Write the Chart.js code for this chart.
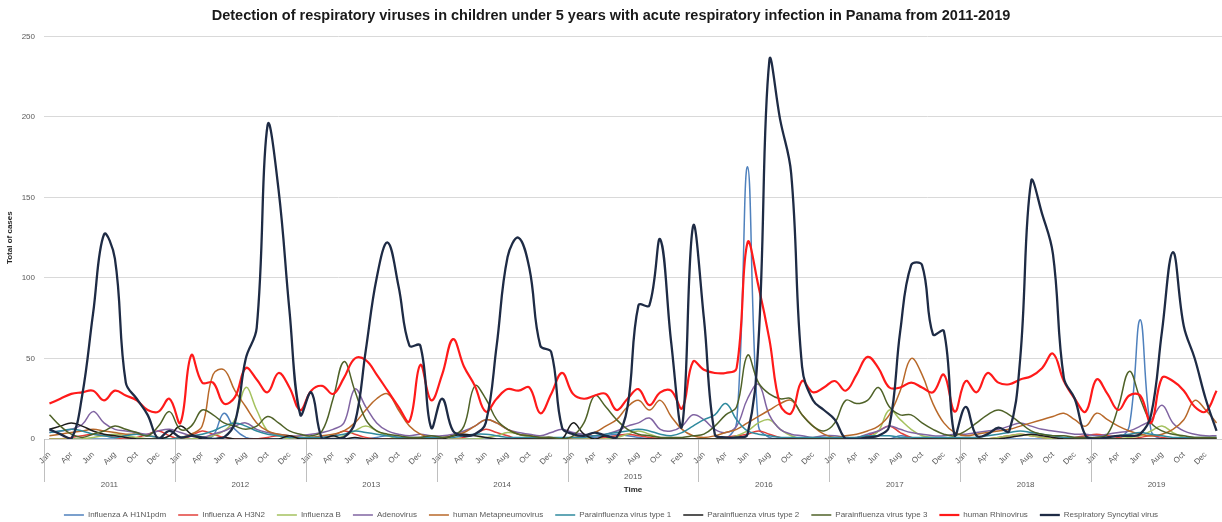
<!DOCTYPE html>
<html>
<head>
<meta charset="utf-8">
<script src="https://cdn.jsdelivr.net/npm/chart.js@4/dist/chart.umd.min.js"></script>
<style>
  html, body { margin: 0; padding: 0; background: #fff; }
</style>
</head>
<body>
<canvas id="virusChart" width="1222" height="522"></canvas>
<script>
const years = ['2011', '2012', '2013', '2014', '2015', '2016', '2017', '2018', '2019'];
const monthNames = ['Jan', 'Feb', 'Mar', 'Apr', 'May', 'Jun', 'Jul', 'Aug', 'Sep', 'Oct', 'Nov', 'Dec'];
// labels printed under every other month (the 2015 row ends with "Feb" in the source)
const monthTicks = ['Jan', 'Apr', 'Jun', 'Aug', 'Oct', 'Dec'];
const monthTicks2015 = ['Jan', 'Apr', 'Jun', 'Aug', 'Oct', 'Feb'];

// monthly cases, one line per year (2011 -> 2019)
const h1n1 = [
  0, 0, 0, 0, 0, 0, 0, 0, 0, 0, 0, 0,
  0, 0, 0, 2, 16, 6, 1, 0, 0, 0, 0, 0,
  0, 0, 0, 0, 0, 0, 1, 2, 1, 0, 0, 0,
  0, 0, 0, 0, 0, 0, 0, 0, 0, 0, 0, 0,
  0, 0, 1, 2, 3, 2, 1, 0, 0, 0, 0, 0,
  0, 0, 0, 10, 169, 8, 1, 0, 0, 0, 0, 0,
  0, 0, 0, 0, 0, 0, 2, 1, 0, 0, 0, 0,
  0, 0, 0, 0, 0, 0, 0, 0, 0, 0, 0, 0,
  0, 0, 0, 8, 74, 5, 0, 0, 0, 0, 0, 0
];
const h3n2 = [
  0, 0, 1, 2, 3, 2, 1, 0, 1, 3, 5, 2,
  0, 2, 5, 3, 1, 0, 0, 0, 1, 2, 1, 0,
  0, 1, 2, 5, 3, 1, 0, 0, 0, 0, 1, 0,
  0, 0, 1, 3, 6, 4, 2, 0, 0, 0, 0, 0,
  0, 0, 0, 1, 2, 3, 2, 1, 0, 0, 0, 0,
  0, 0, 1, 2, 3, 5, 3, 1, 0, 0, 0, 0,
  0, 0, 0, 2, 5, 8, 4, 1, 0, 0, 0, 0,
  0, 0, 0, 1, 2, 3, 2, 1, 0, 0, 1, 2,
  3, 2, 1, 0, 1, 2, 1, 0, 0, 0, 0, 0
];
const fluB = [
  0, 0, 0, 0, 1, 2, 3, 2, 1, 0, 0, 0,
  0, 0, 1, 2, 5, 12, 32, 18, 5, 2, 0, 0,
  0, 0, 0, 2, 5, 8, 5, 2, 0, 0, 0, 0,
  0, 0, 0, 0, 1, 2, 4, 3, 1, 0, 0, 0,
  0, 0, 0, 0, 1, 3, 5, 3, 1, 0, 0, 0,
  0, 0, 0, 2, 5, 10, 12, 6, 2, 0, 0, 0,
  0, 0, 0, 1, 5, 18, 12, 6, 2, 1, 0, 0,
  0, 0, 0, 1, 2, 3, 2, 1, 0, 0, 0, 0,
  0, 0, 0, 1, 2, 5, 8, 4, 1, 0, 0, 0
];
const adeno = [
  4, 5, 6, 9, 17, 10, 6, 5, 4, 3, 5, 6,
  4, 2, 1, 3, 5, 8, 10, 6, 4, 3, 2, 2,
  3, 4, 6, 10, 31, 20, 10, 5, 3, 2, 3, 2,
  2, 3, 5, 8, 12, 10, 6, 4, 3, 2, 4, 6,
  4, 3, 2, 3, 5, 8, 10, 13, 6, 5, 8, 15,
  12, 6, 4, 8, 25, 34, 15, 6, 3, 2, 1, 2,
  2, 1, 1, 3, 5, 8, 6, 4, 3, 2, 2, 3,
  3, 4, 5, 6, 8, 10, 8, 6, 5, 4, 3, 3,
  2, 3, 4, 5, 8, 12, 21, 10, 5, 3, 2, 2
];
const hmpv = [
  2, 3, 4, 5, 6, 5, 4, 3, 3, 2, 1, 0,
  1, 3, 8, 40, 43, 30, 20, 10, 5, 3, 2, 1,
  1, 2, 3, 5, 10, 18, 25, 28, 18, 8, 3, 1,
  1, 2, 4, 8, 12, 10, 6, 3, 2, 1, 1, 0,
  1, 2, 4, 8, 12, 20, 24, 18, 24, 14, 6, 2,
  1, 2, 4, 6, 10, 14, 18, 22, 24, 15, 8, 3,
  1, 2, 3, 5, 8, 15, 30, 50, 40, 22, 10, 4,
  2, 3, 4, 5, 6, 8, 10, 12, 14, 16, 12, 8,
  16, 12, 8, 5, 3, 2, 3, 6, 12, 24, 18, 10
];
const piv1 = [
  4, 5, 6, 5, 3, 2, 1, 2, 3, 2, 1, 0,
  1, 2, 3, 5, 8, 10, 8, 5, 3, 2, 1, 1,
  1, 1, 2, 3, 5, 4, 3, 2, 1, 1, 1, 1,
  1, 1, 2, 3, 3, 2, 1, 1, 1, 1, 1, 1,
  1, 1, 2, 3, 4, 5, 6, 5, 3, 2, 4, 8,
  12, 15, 22, 12, 5, 3, 2, 1, 1, 1, 1, 1,
  1, 1, 1, 2, 2, 2, 1, 1, 1, 1, 1, 1,
  1, 1, 2, 3, 4, 5, 4, 3, 2, 1, 1, 1,
  1, 1, 2, 3, 4, 3, 2, 1, 1, 1, 1, 1
];
const piv2 = [
  6, 8, 10, 8, 5, 3, 2, 1, 0, 0, 0, 2,
  8, 3, 0, 0, 1, 0, 0, 0, 0, 0, 2, 0,
  0, 0, 2, 0, 1, 0, 0, 0, 0, 0, 0, 0,
  0, 2, 3, 2, 1, 0, 0, 0, 0, 0, 0, 0,
  10, 3, 0, 2, 0, 0, 0, 0, 0, 0, 0, 0,
  0, 0, 0, 0, 0, 0, 0, 0, 0, 0, 0, 0,
  0, 0, 0, 0, 0, 0, 0, 0, 0, 0, 0, 0,
  0, 0, 0, 0, 1, 2, 3, 2, 1, 0, 0, 0,
  0, 0, 0, 0, 0, 0, 0, 0, 0, 0, 0, 0
];
const piv3 = [
  15, 8, 3, 1, 3, 5, 8, 6, 4, 2, 8, 17,
  6, 8, 18, 15, 10, 8, 6, 8, 14, 10, 5, 3,
  2, 5, 25, 48, 30, 12, 5, 3, 2, 1, 1, 2,
  1, 2, 8, 33, 25, 12, 6, 3, 2, 1, 1, 0,
  2, 10, 27, 20, 12, 6, 3, 2, 1, 1, 1, 2,
  3, 8, 15, 20, 52, 35, 28, 25, 25, 15, 8, 5,
  10, 24, 22, 24, 32, 20, 15, 15, 10, 6, 3, 2,
  5, 10, 15, 18, 15, 10, 5, 3, 2, 2, 1, 1,
  1, 3, 20, 42, 25, 10, 5, 3, 2, 1, 1, 1
];
const rhino = [
  22, 25, 28, 29, 30, 24, 30, 27, 24, 18, 17, 25,
  10, 52, 35, 35, 22, 26, 44, 37, 29, 41, 32, 18,
  30, 33, 28, 38, 50, 49, 40, 30, 20, 11, 46, 24,
  40, 62, 45, 33, 17, 25, 31, 30, 32, 16, 28, 41,
  28, 25, 27, 28, 18, 25, 31, 21, 29, 30, 19, 48,
  43, 41, 41, 44, 122, 95, 62, 21, 16, 36, 29, 32,
  36, 30, 40, 51, 44, 32, 32, 35, 32, 29, 40, 17,
  36, 29, 41, 35, 34, 37, 39, 44, 53, 36, 25, 17,
  37, 28, 18, 27, 27, 10, 38, 36, 30, 20, 17, 30
];
const rsv = [
  6, 3, 0, 27, 78, 127, 112, 35, 25, 15, 0, 5,
  1, 2, 1, 0, 1, 10, 50, 69, 195, 155, 80, 15,
  29, 0, 0, 1, 10, 55, 100, 122, 95, 58, 58, 7,
  25, 5, 2, 3, 10, 58, 113, 125, 106, 58, 54, 7,
  3, 2, 4, 2, 1, 20, 83, 83, 124, 60, 8, 132,
  75, 3, 1, 1, 3, 60, 235, 198, 165, 45, 24, 18,
  12, 0, 0, 1, 2, 8, 67, 108, 108, 65, 67, 2,
  20, 2, 3, 7, 5, 50, 160, 140, 115, 38, 25, 2,
  0, 1, 2, 2, 3, 15, 67, 116, 70, 50, 25, 5
];

const seriesNames = [
  'Influenza A H1N1pdm', 'Influenza A H3N2', 'Influenza B', 'Adenovirus',
  'human Metapneumovirus', 'Parainfluenza virus type 1', 'Parainfluenza virus type 2',
  'Parainfluenza virus type 3', 'human Rhinovirus', 'Respiratory Syncytial virus'
];
const seriesData = [h1n1, h3n2, fluB, adeno, hmpv, piv1, piv2, piv3, rhino, rsv];
const seriesColors = [
  '#4f81bd', '#e2413b', '#a5c25f', '#8064a2', '#b8692a',
  '#2f8a9e', '#1c1c1c', '#4f6228', '#ff1a1a', '#1e2b45'
];
const seriesWidths = [1.5, 1.5, 1.5, 1.5, 1.5, 1.5, 1.5, 1.5, 2.2, 2.3];

const categories = years.flatMap(y => monthNames.map(m => m + ' ' + y));
const FONT = '"Liberation Sans", Arial, sans-serif';

// year row under the month labels, with separators at each January
const yearRow = {
  id: 'yearRow',
  afterDraw(chart) {
    const { ctx, chartArea } = chart;
    const x = chart.scales.x;
    const half = (x.getPixelForValue(1) - x.getPixelForValue(0)) / 2;
    const mid = (chartArea.left + chartArea.right) / 2;
    ctx.save();
    ctx.strokeStyle = '#bfbfbf';
    ctx.lineWidth = 1;
    ctx.font = '8px ' + FONT;
    ctx.fillStyle = '#595959';
    ctx.textAlign = 'center';
    ctx.textBaseline = 'middle';
    years.forEach((yr, k) => {
      const x0 = x.getPixelForValue(k * 12) - half;
      const x1 = Math.min(x.getPixelForValue(k * 12 + 11) + half, chartArea.right);
      const px = Math.round(x0) + 0.5;
      ctx.beginPath();
      ctx.moveTo(px, chartArea.bottom);
      ctx.lineTo(px, chartArea.bottom + 43);
      ctx.stroke();
      const cx = (x0 + x1) / 2;
      const lift = Math.abs(cx - mid) < 40 ? 8 : 0; // keeps clear of the "Time" title
      ctx.fillText(yr, cx, chartArea.bottom + 46 - lift);
    });
    ctx.restore();
  }
};

// fixed legend height so the legend row sits at the very bottom
const legendHeight = {
  id: 'legendHeight',
  afterInit(chart) {
    const legend = chart.legend;
    const fit = legend.fit;
    legend.fit = function () {
      fit.call(this);
      this.height = 23;
    };
  }
};

const ctx = document.getElementById('virusChart');
new Chart(ctx, {
  type: 'line',
  data: {
    labels: categories,
    datasets: seriesNames.map((name, i) => ({
      label: name,
      data: seriesData[i],
      borderColor: seriesColors[i],
      backgroundColor: seriesColors[i],
      borderWidth: seriesWidths[i],
      pointRadius: 0,
      tension: 0.4,
      fill: false,
      order: seriesNames.length - i // later series drawn on top
    }))
  },
  options: {
    responsive: false,
    animation: false,
    layout: { padding: { left: 0, right: 0, top: 0, bottom: 0 } },
    plugins: {
      title: {
        display: true,
        text: 'Detection of respiratory viruses in children under 5 years with acute respiratory infection in Panama from 2011-2019',
        color: '#1a1a1a',
        font: { family: FONT, size: 14.5, weight: 'bold' },
        padding: { top: 7, bottom: 12 }
      },
      legend: {
        position: 'bottom',
        labels: {
          usePointStyle: true,
          pointStyle: 'line',
          pointStyleWidth: 20,
          padding: 12,
          color: '#595959',
          font: { family: FONT, size: 8 },
          sort: (a, b) => a.datasetIndex - b.datasetIndex
        }
      },
      tooltip: { enabled: false }
    },
    scales: {
      x: {
        type: 'category',
        offset: true,
        grid: { display: false },
        border: { display: true, color: '#d0d0d0' },
        ticks: {
          autoSkip: false,
          minRotation: 45,
          maxRotation: 45,
          padding: 3,
          color: '#595959',
          font: { family: FONT, size: 8 },
          callback: function (value, index) {
            if (index % 2) return null;
            const yr = years[Math.floor(index / 12)];
            const names = yr === '2015' ? monthTicks2015 : monthTicks;
            return names[(index % 12) / 2];
          }
        },
        title: {
          display: true,
          text: 'Time',
          color: '#262626',
          font: { family: FONT, size: 8, weight: 'bold' },
          padding: { top: 0, bottom: 4 }
        },
        afterFit: scale => { scale.height = 60; }
      },
      y: {
        min: 0,
        max: 250,
        grid: { color: '#d9d9d9', drawTicks: false },
        border: { display: false },
        ticks: {
          stepSize: 50,
          padding: 9,
          color: '#595959',
          font: { family: FONT, size: 8 }
        },
        title: {
          display: true,
          text: 'Total of cases',
          color: '#262626',
          font: { family: FONT, size: 8, weight: 'bold' },
          padding: { top: 5, bottom: 0 }
        },
        afterFit: scale => { scale.width = 44; }
      }
    }
  },
  plugins: [yearRow, legendHeight]
});
</script>
</body>
</html>
